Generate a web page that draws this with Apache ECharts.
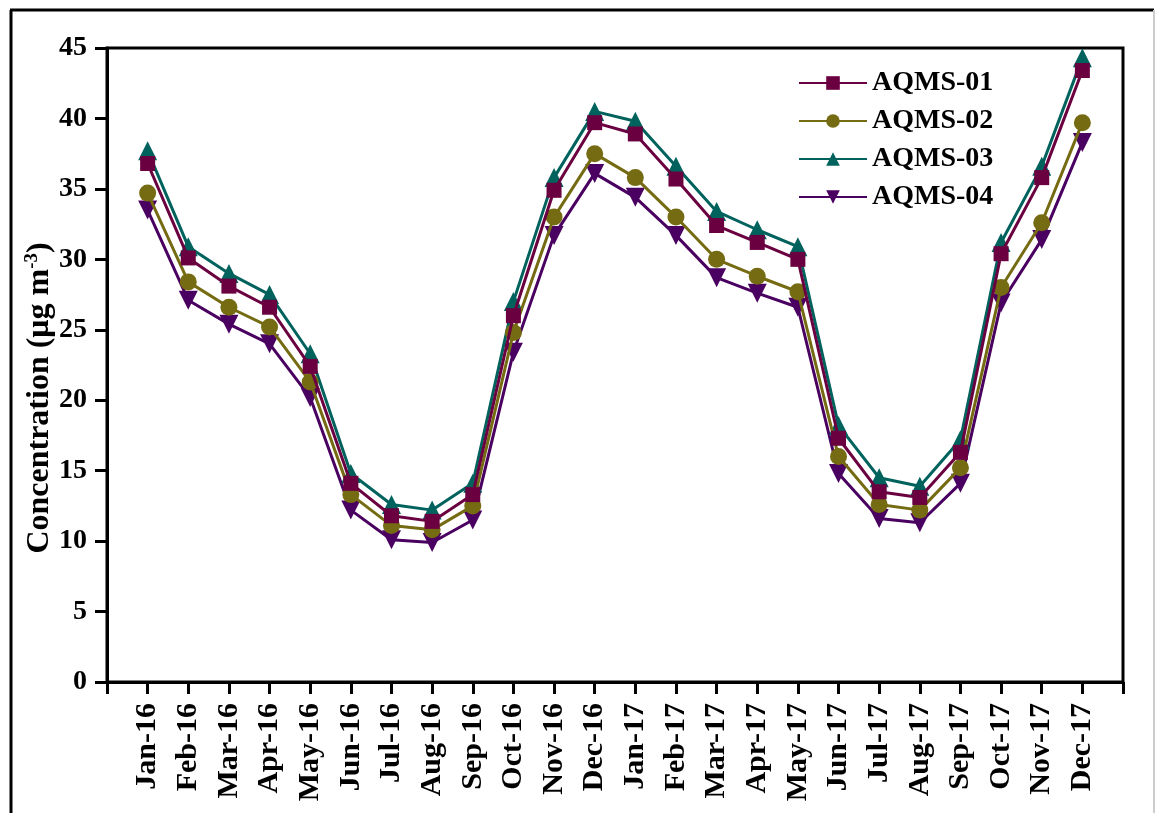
<!DOCTYPE html>
<html>
<head>
<meta charset="utf-8">
<script src="https://cdn.jsdelivr.net/npm/echarts@6/dist/echarts.min.js"></script>
<style>
html, body { margin: 0; padding: 0; background: #fff; }
#main { width: 1155px; height: 813px; }
</style>
</head>
<body>
<div id="main"></div>
<script>
var months = ['Jan-16','Feb-16','Mar-16','Apr-16','May-16','Jun-16','Jul-16','Aug-16','Sep-16','Oct-16','Nov-16','Dec-16',
              'Jan-17','Feb-17','Mar-17','Apr-17','May-17','Jun-17','Jul-17','Aug-17','Sep-17','Oct-17','Nov-17','Dec-17'];

var aqms01 = [36.8, 30.1, 28.1, 26.6, 22.4, 14.1, 11.8, 11.4, 13.3, 26.0, 34.9, 39.7,
              38.9, 35.7, 32.4, 31.2, 30.0, 17.3, 13.5, 13.1, 16.3, 30.4, 35.8, 43.4];
var aqms02 = [34.7, 28.4, 26.6, 25.2, 21.3, 13.3, 11.1, 10.8, 12.5, 24.8, 33.0, 37.5,
              35.8, 33.0, 30.0, 28.8, 27.7, 16.0, 12.6, 12.2, 15.2, 28.0, 32.6, 39.7];
var aqms03 = [37.7, 30.9, 29.0, 27.5, 23.3, 14.8, 12.6, 12.2, 14.1, 27.0, 35.8, 40.5,
              39.8, 36.6, 33.4, 32.1, 30.9, 18.2, 14.5, 13.9, 17.2, 31.2, 36.6, 44.3];
var aqms04 = [33.5, 27.1, 25.4, 24.0, 20.2, 12.2, 10.1, 9.9, 11.5, 23.4, 31.7, 36.1,
              34.4, 31.7, 28.7, 27.6, 26.6, 14.8, 11.6, 11.3, 14.1, 26.9, 31.4, 38.3];

var seriesNames = ['AQMS-01', 'AQMS-02', 'AQMS-03', 'AQMS-04'];
var seriesData = [aqms01, aqms02, aqms03, aqms04];
var colors = ['#6b0040', '#756b12', '#00625d', '#4a0060'];
var symbols = ['rect', 'circle', 'triangle', 'path://M0,0 L10,0 L5,9 Z'];
var symbolSizes = [15, 17, 19, 19];

var font = '"Liberation Serif", "Times New Roman", serif';

var myChart = echarts.init(document.getElementById('main'));

var series = [];
for (var s = 0; s < seriesData.length; s++) {
    var pts = [];
    for (var i = 0; i < seriesData[s].length; i++) {
        pts.push([i + 1, seriesData[s][i]]);
    }
    series.push({
        name: seriesNames[s],
        type: 'line',
        data: pts,
        symbol: symbols[s],
        symbolSize: symbolSizes[s],
        showAllSymbol: true,
        lineStyle: { color: colors[s], width: 3 },
        itemStyle: { color: colors[s] },
        z: 10 - s
    });
}

var option = {
    backgroundColor: '#fff',
    animation: false,
    textStyle: { fontFamily: font },
    grid: {
        left: 107, right: 32, top: 48, bottom: 131,
        show: true,
        borderColor: '#000',
        borderWidth: 3,
        containLabel: false
    },
    legend: {
        orient: 'vertical',
        left: 793,
        top: 64,
        itemWidth: 68,
        itemHeight: 17,
        itemGap: 10,
        data: seriesNames,
        textStyle: { fontFamily: font, fontSize: 28, fontWeight: 'bold', color: '#000' }
    },
    xAxis: {
        type: 'value',
        min: 0,
        max: 25,
        interval: 1,
        axisLine: { show: true, lineStyle: { color: '#000', width: 3 } },
        axisTick: { show: true, inside: false, length: 12, lineStyle: { color: '#000', width: 3 } },
        splitLine: { show: false },
        axisLabel: {
            rotate: 90,
            margin: 21,
            fontFamily: font,
            fontSize: 30,
            fontWeight: 'bold',
            color: '#000',
            showMinLabel: true,
            showMaxLabel: true,
            formatter: function (v) {
                return (v >= 1 && v <= months.length) ? months[v - 1] : '';
            }
        }
    },
    yAxis: {
        type: 'value',
        min: 0,
        max: 45,
        interval: 5,
        axisLine: { show: true, lineStyle: { color: '#000', width: 3 } },
        axisTick: { show: true, inside: false, length: 12, lineStyle: { color: '#000', width: 3 } },
        splitLine: { show: false },
        axisLabel: {
            margin: 20,
            fontFamily: font,
            fontSize: 28,
            fontWeight: 'bold',
            color: '#000'
        }
    },
    graphic: [
        { type: 'line', shape: { x1: 11, y1: 10, x2: 11, y2: 813 }, style: { stroke: '#000', lineWidth: 3 } },
        { type: 'line', shape: { x1: 10, y1: 10, x2: 1154, y2: 10 }, style: { stroke: '#000', lineWidth: 3 } },
        { type: 'line', shape: { x1: 1154, y1: 10, x2: 1154, y2: 813 }, style: { stroke: '#cccccc', lineWidth: 2 } },
        // y axis title with superscript
        {
            type: 'text',
            x: 40,
            y: 398,
            rotation: Math.PI / 2,
            style: {
                text: '{a|Concentration (μg m}{s|-3}{a|)}',
                align: 'center',
                verticalAlign: 'middle',
                rich: {
                    a: { fontFamily: font, fontSize: 32, fontWeight: 'bold', fill: '#000' },
                    s: { fontFamily: font, fontSize: 19, fontWeight: 'bold', fill: '#000', padding: [0, 0, 16, 0] }
                }
            }
        }
    ],
    series: series
};

myChart.setOption(option);

window.addEventListener('resize', function () {
    myChart.resize();
});
</script>
</body>
</html>
